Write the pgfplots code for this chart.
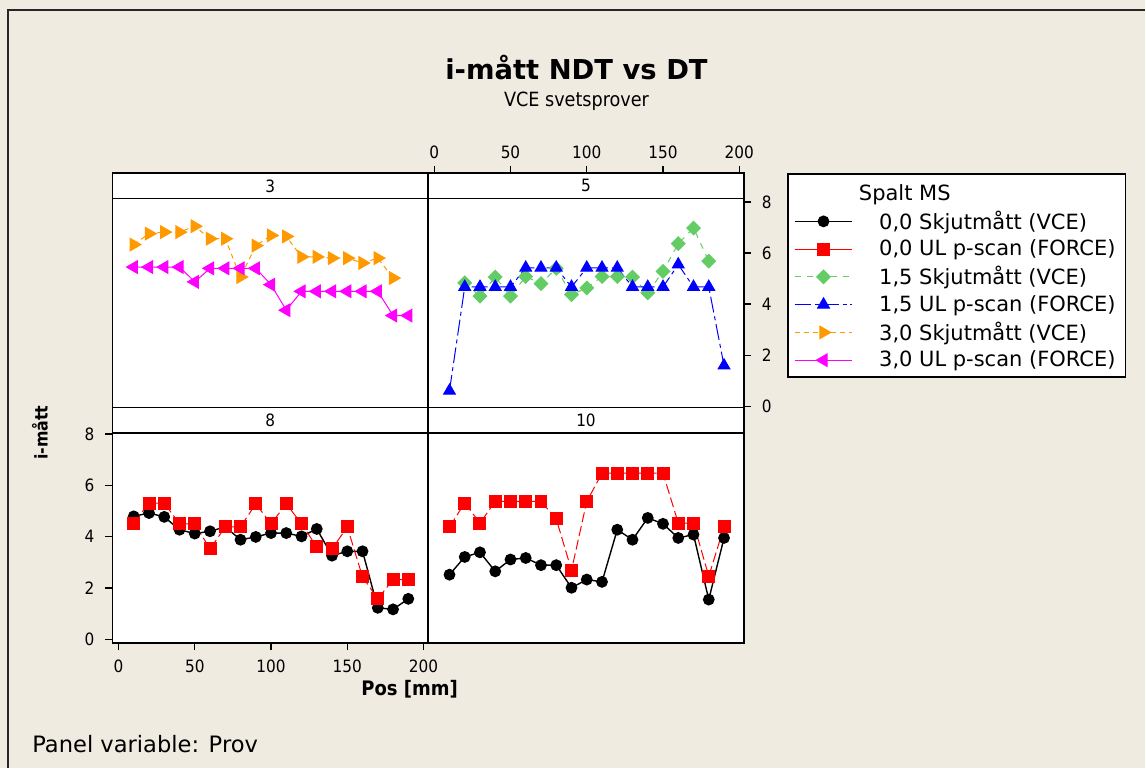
\documentclass[border=0pt]{standalone}
\usepackage{fontspec}
\setmainfont{DejaVu Sans Condensed}
\newfontfamily\widefont{DejaVu Sans}
\usepackage{pgfplots}
\pgfplotsset{compat=1.18}

\definecolor{bgc}{RGB}{239,235,225}
\definecolor{mgreen}{RGB}{100,204,100}
\definecolor{morange}{RGB}{255,153,0}
\definecolor{mmagenta}{RGB}{255,0,255}

\pgfplotsset{
  panel/.style={
    scale only axis, width=158pt, xmin=-4, xmax=203,
    axis background/.style={fill=white},
    axis line style={line width=0.75pt},
    tick align=outside, major tick length=3.5pt,
    every tick/.style={black, line width=0.6pt},
    tick label style={font=\fontsize{8.5}{10}\selectfont},
    /pgf/number format/assume math mode=true,
    xtick=\empty, ytick=\empty,
  },
  toprow/.style={panel, height=117.25pt, ymin=-0.05, ymax=9.13},
  botrow/.style={panel, height=117.75pt, ymin=-0.13, ymax=9.03},
  % series styles
  s00a/.style={black, line width=0.7pt, mark=*, mark size=2.6pt},
  s00b/.style={red, line width=0.5pt, dash pattern=on 5pt off 2pt, mark=square*, mark size=3pt, mark options={solid}},
  s15a/.style={mgreen, line width=0.5pt, dash pattern=on 3pt off 3pt, mark=square*, mark size=2.4pt, mark options={solid, rotate=45}},
  s15b/.style={blue, line width=0.5pt, dash pattern=on 8pt off 2pt on 2pt off 2pt, mark=triangle*, mark size=3.4pt, mark options={solid}},
  s30a/.style={morange, line width=0.5pt, dash pattern=on 2.5pt off 2pt, mark=triangle*, mark size=3.6pt, mark options={solid, rotate=-90}},
  s30b/.style={mmagenta, line width=0.5pt, mark=triangle*, mark size=3.6pt, mark options={rotate=90}},
}

\begin{document}
\begin{tikzpicture}
% page background and frame
\fill[bgc] (0,0) rectangle (573pt,-384.5pt);
\draw[black!85, line width=1pt] (4pt,-384.5pt) -- (4pt,-5.25pt) -- (573pt,-5.25pt);

% ---------- Prov 3 (top left) ----------
\begin{axis}[toprow, at={(56.25pt,-86.65pt)}, anchor=north west]
\addplot[s30a] coordinates {
(10,6.33) (20,6.76) (30,6.82) (40,6.82) (50,7.05) (60,6.56) (70,6.56) (80,5.06) (90,6.29)
(100,6.69) (110,6.65) (120,5.85) (130,5.85) (140,5.80) (150,5.80) (160,5.61) (170,5.80) (180,5.02)};
\addplot[s30b] coordinates {
(10,5.45) (20,5.45) (30,5.45) (40,5.45) (50,4.87) (60,5.40) (70,5.40) (80,5.40) (90,5.40)
(100,4.76) (110,3.76) (120,4.50) (130,4.50) (140,4.50) (150,4.50) (160,4.50) (170,4.50) (180,3.55) (190,3.55)};
\draw[line width=0.75pt] (axis cs:-4,8.13) -- (axis cs:203,8.13);
\node[font=\fontsize{8.5}{10}\selectfont] at (axis cs:99.5,8.63) {3};
\end{axis}

% ---------- Prov 5 (top right) ----------
\begin{axis}[toprow, at={(214.25pt,-86.65pt)}, anchor=north west,
  xtick={0,50,100,150,200}, xtick pos=right, xticklabel pos=right,
  ytick={0,2,4,6,8}, ytick pos=right, yticklabel pos=right,
  yticklabel style={xshift=2pt},
  legend style={at={(1.137,1)}, anchor=north west, draw=black, line width=0.75pt,
    fill=white, font=\widefont\fontsize{10.5}{12}\selectfont, cells={anchor=west},
    nodes={inner ysep=0.6pt}, row sep=2.6pt, inner xsep=3pt, inner ysep=3pt},
  legend image code/.code={%
    \draw[mark repeat=2, mark phase=2, #1] plot coordinates {(0pt,0pt) (14.5pt,0pt) (29pt,0pt)};
    \path (0pt,0pt) (40pt,0pt);}
]
\addlegendimage{empty legend}\addlegendentry{\rule[-3pt]{0pt}{12.5pt}\hphantom{0,0}\llap{Spalt}\ MS}
\addlegendimage{s00a}\addlegendentry{0,0 Skjutmått (VCE)}
\addlegendimage{s00b, solid}\addlegendentry{0,0 UL p-scan (FORCE)}
\addlegendimage{s15a}\addlegendentry{1,5 Skjutmått (VCE)}
\addlegendimage{s15b}\addlegendentry{1,5 UL p-scan (FORCE)}
\addlegendimage{s30a}\addlegendentry{3,0 Skjutmått (VCE)}
\addlegendimage{s30b}\addlegendentry{3,0 UL p-scan (FORCE)\hspace{16pt}}
\addplot[s15a, forget plot] coordinates {
(20,4.83) (30,4.31) (40,5.06) (50,4.31) (60,5.08) (70,4.80) (80,5.40) (90,4.37) (100,4.63)
(110,5.08) (120,5.08) (130,5.06) (140,4.44) (150,5.28) (160,6.37) (170,6.98) (180,5.68)};
\addplot[s15b, forget plot] coordinates {
(10,0.60) (20,4.67) (30,4.67) (40,4.67) (50,4.67) (60,5.42) (70,5.42) (80,5.42) (90,4.67)
(100,5.42) (110,5.42) (120,5.42) (130,4.67) (140,4.67) (150,4.67) (160,5.55) (170,4.67) (180,4.67) (190,1.59)};
\draw[line width=0.75pt] (axis cs:-4,8.13) -- (axis cs:203,8.13);
\node[font=\fontsize{8.5}{10}\selectfont] at (axis cs:99.5,8.63) {5};
\end{axis}

% ---------- Prov 8 (bottom left) ----------
\begin{axis}[botrow, at={(56.25pt,-203.9pt)}, anchor=north west,
  xtick={0,50,100,150,200}, xtick pos=left,
  ytick={0,2,4,6,8}, ytick pos=left,
  yticklabel style={xshift=-2pt}, xticklabel style={yshift=-1.5pt}]
\addplot[s00a] coordinates {
(10,4.79) (20,4.92) (30,4.77) (40,4.27) (50,4.12) (60,4.21) (70,4.38) (80,3.88) (90,3.99)
(100,4.14) (110,4.14) (120,4.01) (130,4.30) (140,3.26) (150,3.43) (160,3.43) (170,1.23) (180,1.17) (190,1.58)};
\addplot[s00b] coordinates {
(10,4.53) (20,5.31) (30,5.31) (40,4.50) (50,4.50) (60,3.52) (70,4.38) (80,4.38) (90,5.28)
(100,4.50) (110,5.28) (120,4.50) (130,3.60) (140,3.52) (150,4.38) (160,2.43) (170,1.58) (180,2.33) (190,2.33)};
\draw[line width=0.75pt] (axis cs:-4,8.04) -- (axis cs:203,8.04);
\node[font=\fontsize{8.5}{10}\selectfont] at (axis cs:99.5,8.535) {8};
\end{axis}

% ---------- Prov 10 (bottom right) ----------
\begin{axis}[botrow, at={(214.25pt,-203.9pt)}, anchor=north west]
\addplot[s00a] coordinates {
(10,2.52) (20,3.21) (30,3.39) (40,2.65) (50,3.11) (60,3.17) (70,2.89) (80,2.89) (90,2.01)
(100,2.33) (110,2.24) (120,4.27) (130,3.88) (140,4.73) (150,4.50) (160,3.95) (170,4.08) (180,1.55) (190,3.95)};
\addplot[s00b] coordinates {
(10,4.38) (20,5.31) (30,4.53) (40,5.37) (50,5.37) (60,5.37) (70,5.37) (80,4.69) (90,2.69)
(100,5.37) (110,6.47) (120,6.47) (130,6.47) (140,6.47) (150,6.47) (160,4.53) (170,4.53) (180,2.46) (190,4.38)};
\draw[line width=0.75pt] (axis cs:-4,8.04) -- (axis cs:203,8.04);
\node[font=\fontsize{8.5}{10}\selectfont] at (axis cs:99.5,8.535) {10};
\end{axis}

% titles and labels
\node[font=\widefont\bfseries\fontsize{13.7}{15}\selectfont] at (288.5pt,-34pt) {i-mått NDT vs DT};
\node[font=\fontsize{9.8}{11}\selectfont] at (288.5pt,-50.5pt) {VCE svetsprover};
\node[font=\bfseries\fontsize{8.8}{10}\selectfont, rotate=90] at (20pt,-216.5pt) {i-mått};
\node[font=\bfseries\fontsize{10}{12}\selectfont] at (205pt,-345pt) {Pos [mm]};
\node[font=\widefont\fontsize{11.3}{13}\selectfont, anchor=west, inner sep=0pt] at (16pt,-372.5pt) {Panel variable: Prov};
\end{tikzpicture}
\end{document}
